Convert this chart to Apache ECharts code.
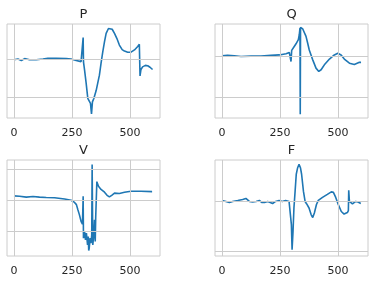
<!DOCTYPE html>
<html>
<head>
<meta charset="utf-8">
<script src="https://cdn.jsdelivr.net/npm/echarts@6/dist/echarts.min.js"></script>
<style>
html,body{margin:0;padding:0;background:#fff;}
#c{width:375px;height:283px;}
</style>
</head>
<body>
<div id="c"></div>
<script>
// ---- data ----
const titles = ['P', 'Q', 'V', 'F'];
const xTicks = [0, 250, 500];

const pX = [0,17,32,46,67,96,125,146,182,225,246,268,289,295,298,299.4,304,311,318,325,329.5,334,338,344,354,368,375,382.5,390,397,407,414,423,433,443,454,466,476,490,504,519,533,540,543,547,554,566,576,586,597];
const pY = [0,0.02,-0.02,0.03,0,0,0.02,0.04,0.04,0.03,0.02,-0.02,-0.05,-0.04,0.59,-0.06,-0.27,-0.63,-1.03,-1.05,-1.16,-1.44,-1.12,-1.03,-0.82,-0.41,-0.1,0.21,0.48,0.7,0.83,0.86,0.81,0.7,0.57,0.39,0.27,0.23,0.2,0.2,0.26,0.35,0.41,-0.43,-0.26,-0.19,-0.15,-0.16,-0.2,-0.26];

const qX = [0,24,53,82,125,168,211,247,276,290,294.5,297.4,300.3,312,319,325,329,333,336,337.2,338.4,341,348,355,362,369,376,391,405,417,427,441,463,484,499,513,527,549,570,592,599];
const qY = [0.01,0.02,0.01,-0.01,0,0,0.02,0.03,0.06,0.09,0.11,-0.13,0.14,0.24,0.3,0.32,0.4,0.52,0.68,-1.41,0.7,0.71,0.66,0.64,0.48,0.32,0.15,-0.09,-0.29,-0.37,-0.33,-0.21,-0.07,0.03,0.07,0.03,-0.07,-0.17,-0.2,-0.15,-0.15];

const vX = [0,24,53,82,110,139,175,218,246,261,269,275,282,289,295,298,299.4,304,308,312,317,320,322,324,328,332,335,336.7,339.5,344,347,350,352,357,364,375,390,401,411,421,433,454,476,504,547,595];
const vY = [0.14,0.13,0.1,0.12,0.1,0.09,0.08,0.04,0,-0.07,-0.14,-0.3,-0.47,-0.68,-0.77,0.13,-1.22,-1.0,-1.28,-1.06,-1.44,-1.17,-1.62,-1.55,-1.22,-1.38,-1.11,1.15,-1.44,-1.11,-0.63,-1.33,-0.57,0.6,0.45,0.35,0.26,0.16,0.11,0.16,0.23,0.22,0.26,0.29,0.29,0.28];

const fX = [0,17,32,46,68,89,103,111,118,132,147,161,171,183,197,208,218,231,246,260,274,289,293,299,302,306,310,315,320,326,332,338,343,351,358,365,375,384,391,398,407,415,433,454,471,480,490,501,514,526,540,544.5,546,549,555,562,569,576,586,598];
const fY = [0.01,-0.01,-0.03,-0.01,0.01,0.03,0.05,0.02,-0.01,-0.02,-0.01,0.01,-0.03,-0.03,-0.01,-0.03,-0.05,-0.01,0.01,-0.01,0.01,-0.01,-0.04,-0.47,-0.97,-0.61,-0.14,0.19,0.53,0.66,0.73,0.66,0.53,0.19,-0.01,-0.06,-0.14,-0.27,-0.33,-0.24,-0.07,0.01,0.07,0.13,0.18,0.17,0.07,-0.07,-0.21,-0.26,-0.23,-0.19,0.21,-0.01,0.01,-0.06,-0.03,-0.01,-0.02,-0.05];

// y gridline values and axis extents per panel
const yGrid = [[0, -1], [0, -1], [1, 0, -1], [0, -1]];
const yRange = [[-1.55, 0.95], [-1.50, 0.78], [-1.795, 1.297], [-1.093, 0.813]];
const xRange = [-30, 629];

// ---- layout ----
const rects = [
  {left: 7, top: 24, width: 153, height: 94},
  {left: 215, top: 24, width: 153, height: 94},
  {left: 7, top: 160, width: 153, height: 96},
  {left: 215, top: 160, width: 153, height: 96}
];
const titleTops = [8, 8, 144, 144];
const FONT = 'DejaVu Sans';
const GRIDC = '#cccccc';
const TXT = '#262626';

const allX = [pX, qX, vX, fX];
const allY = [pY, qY, vY, fY];

const option = {
  animation: false,
  backgroundColor: '#ffffff',
  title: titles.map((t, i) => ({
    text: t,
    left: rects[i].left + rects[i].width / 2,
    top: titleTops[i],
    textAlign: 'center',
    padding: 0,
    textStyle: {fontFamily: FONT, fontSize: 13, fontWeight: 'normal', color: TXT}
  })),
  grid: rects.map(r => Object.assign({show: true, borderColor: GRIDC, borderWidth: 1, backgroundColor: '#ffffff'}, r)),
  xAxis: rects.map((r, i) => ({
    type: 'value', gridIndex: i, min: xRange[0], max: xRange[1],
    axisLine: {show: false}, axisTick: {show: false}, splitLine: {show: false},
    axisLabel: {customValues: xTicks, fontFamily: FONT, fontSize: 11, color: TXT, margin: 10}
  })),
  yAxis: rects.map((r, i) => ({
    type: 'value', gridIndex: i, min: yRange[i][0], max: yRange[i][1],
    axisLine: {show: false}, axisTick: {show: false}, splitLine: {show: false},
    axisLabel: {show: false}
  })),
  series: []
};

for (let i = 0; i < 4; i++) {
  // gridlines (beneath)
  option.series.push({
    type: 'line', xAxisIndex: i, yAxisIndex: i, z: 1,
    data: [[xTicks[0], yGrid[i][0]]], showSymbol: false, lineStyle: {width: 0},
    silent: true,
    markLine: {
      silent: true, symbol: 'none', label: {show: false}, animation: false,
      lineStyle: {color: GRIDC, width: 1, type: 'solid'},
      emphasis: {disabled: true},
      data: xTicks.map(v => ({xAxis: v})).concat(yGrid[i].map(v => ({yAxis: v})))
    }
  });
  option.series.push({
    type: 'line', xAxisIndex: i, yAxisIndex: i, z: 3,
    data: allX[i].map((x, k) => [x, allY[i][k]]),
    showSymbol: false, symbol: 'none',
    lineStyle: {color: '#1f77b4', width: 1.6},
    itemStyle: {color: '#1f77b4'}
  });
}

const chart = echarts.init(document.getElementById('c'), null, {renderer: 'canvas'});
chart.setOption(option);
</script>
</body>
</html>
